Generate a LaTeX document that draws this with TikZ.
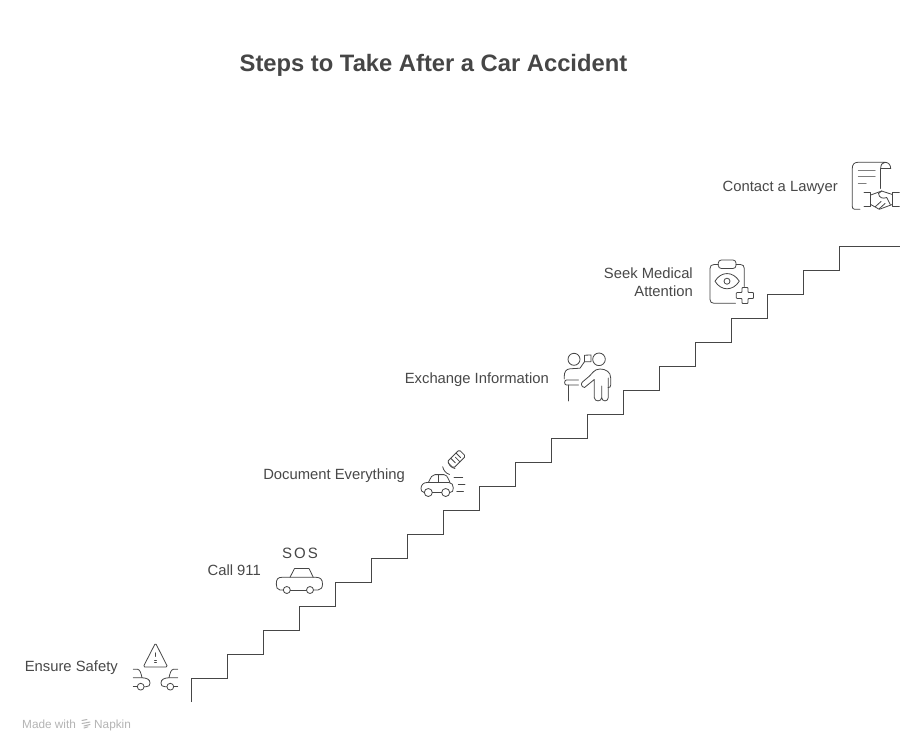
\documentclass[tikz,border=0pt]{standalone}
\usepackage{fontspec}
\setmainfont{Liberation Sans}
\definecolor{ink}{HTML}{464646}
\definecolor{lbl}{HTML}{484848}
\definecolor{mark}{HTML}{B4B4B4}
\tikzset{
  icon/.style={draw=ink,line width=0.8pt,line cap=round,line join=round,fill=none},
  stair/.style={draw=ink,line width=1pt,line join=miter},
  lab/.style={text=lbl,font=\fontsize{14.8}{18}\selectfont,inner sep=0pt},
  ttl/.style={text=ink,font=\fontsize{23.75}{30}\selectfont\bfseries,inner sep=0pt},
  wm/.style={text=mark,font=\fontsize{11.8}{14}\selectfont,inner sep=0pt}
}
\begin{document}
\begin{tikzpicture}[x=1pt,y=-1pt]
\useasboundingbox (0,0) rectangle (924,750);
\fill[white] (0,0) rectangle (924,750);
\node[ttl,anchor=base] (title) at (433.5,71) {Steps to Take After a Car Accident};
% labels
\node[lab,anchor=base east] (l1) at (118,671) {Ensure Safety};
\node[lab,anchor=base east] (l2) at (261,575) {Call 911};
\node[lab,anchor=base east] (l3) at (405,479) {Document Everything};
\node[lab,anchor=base east] (l4) at (549,383) {Exchange Information};
\node[lab,anchor=base east] (l5a) at (693,278) {Seek Medical};
\node[lab,anchor=base east] (l5b) at (693,296) {Attention};
\node[lab,anchor=base east] (l6) at (838,191) {Contact a Lawyer};
% staircase
\draw[stair] (191,702) |- (227,678) |- (263,654) |- (299,630) |- (335,606) |- (371,582) |- (407,558) |- (443,534) |- (479,510) |- (515,486) |- (551,462) |- (587,438) |- (623,414) |- (659,390) |- (695,366) |- (731,342) |- (767,318) |- (803,294) |- (839,270) |- (900,246);
% icon 1: warning and two cars
\draw[icon,rounded corners=1.5pt] (155.5,643) -- (167.7,667) -- (143.2,667) -- cycle;
\draw[icon,line width=0.6pt] (155.5,652.7) -- (155.5,656.5) (154.5,660.5) -- (156.5,660.5) (154.5,662) -- (156.5,662);
\draw[icon] (133.3,669.3) -- (137.5,669.3) .. controls (140,669.5) and (141,673) .. (142,677.7);
\draw[icon] (133.3,677.7) -- (142,677.7) .. controls (147,678) and (150,679.5) .. (150,683) .. controls (150,685.5) and (149,686.7) .. (146,686.7) -- (144.4,686.7);
\draw[icon] (133.3,686.7) -- (137,686.7);
\draw[icon] (140.7,686.7) circle (3.4);
\draw[icon] (177.7,669.3) -- (173.5,669.3) .. controls (171,669.5) and (170,673) .. (169,677.7);
\draw[icon] (177.7,677.7) -- (169,677.7) .. controls (164,678) and (161,679.5) .. (161,683) .. controls (161,685.5) and (162,686.7) .. (165,686.7) -- (166.6,686.7);
\draw[icon] (177.7,686.7) -- (174,686.7);
\draw[icon] (170.3,686.7) circle (3.4);
% icon 2: SOS and car
\node[text=ink,font=\fontsize{15}{18}\selectfont,inner sep=0pt,anchor=base] (sos) at (300,558.5) {S\hspace{2pt}O\hspace{2pt}S};
\draw[icon] (290,577.3) -- (294.5,568.5) -- (309,568.5) -- (313.3,577.3);
\draw[icon] (283.2,590) -- (280,590) .. controls (277,590) and (276.3,587) .. (276.3,584) .. controls (276.3,579) and (278,577.3) .. (282,577.3) -- (316,577.3) .. controls (320.5,577.3) and (322.5,579.5) .. (322.5,584) .. controls (322.5,587.5) and (321,590) .. (318,590) -- (313.6,590);
\draw[icon] (290.3,590) -- (306.5,590);
\draw[icon] (286.8,590) circle (3.5);
\draw[icon] (310,590) circle (3.5);
% icon 3: car with signal
\draw[icon] (428.3,482.5) -- (431.5,476.5) .. controls (432.5,475) and (433,474.6) .. (435,474.6) -- (444,474.6) .. controls (446,474.6) and (447,475.5) .. (450,482.5);
\draw[icon] (438.3,474.6) -- (438.3,482.5);
\draw[icon] (424.3,492.5) .. controls (421.5,492.5) and (421,490) .. (421,488.5) .. controls (421,485) and (423.5,482.5) .. (427,482.5) -- (449,482.5) .. controls (452,482.5) and (453.3,485) .. (453.3,488) .. controls (453.3,491) and (452.5,492.5) .. (449.7,492.5);
\draw[icon] (432.3,492.5) -- (441.7,492.5);
\draw[icon] (428.3,492.5) circle (4);
\draw[icon] (445.7,492.5) circle (4);
\draw[icon] (454,477.7) -- (462.7,477.7) (458.3,484.4) -- (465,484.4) (456.7,491.7) -- (463.5,491.7);
\draw[icon] (442.7,466.7) .. controls (443.2,470) and (446,473.5) .. (449.5,474.5);
\draw[icon] (448.3,461.7) .. controls (448.3,464) and (451,468) .. (455,468.5);
\begin{scope}[shift={(456.4,459)},rotate=45]
\draw[icon,rounded corners=1.5pt] (-8.5,-4.5) rectangle (8.5,4.5);
\draw[icon] (-3.5,-4.5) -- (-3.5,2) (0.5,-2) -- (0.5,4.5) (4,-4.5) -- (4,2);
\end{scope}
% icon 4: two people and flag
\draw[icon] (574,359.3) circle (6);
\draw[icon] (599,359.3) circle (6.3);
\draw[icon] (584.5,355.2) -- (591,355) -- (591,361.7) -- (584.5,361.7) -- cycle;
\draw[icon] (584.5,361.7) -- (580,368.2) -- (570,368.8) .. controls (566,369) and (564.3,372) .. (564.3,376) -- (564.3,379);
\draw[icon] (578.5,380) -- (566.5,380) .. controls (564,380) and (564,385) .. (566.5,385) -- (578.5,385);
\draw[icon] (568.3,385) -- (568.3,401);
\draw[icon] (584.5,387.5) .. controls (581,387) and (580.5,383) .. (583,381.5) -- (589,376.5) .. controls (592,374) and (594,369) .. (600,369) .. controls (606,369) and (610.7,372) .. (610.7,378) -- (610.7,385) .. controls (610.7,387) and (609.5,388) .. (608,387.5);
\draw[icon] (584.5,387.5) -- (594.3,379.5) -- (594.3,397.5) .. controls (594.3,402) and (601.7,402) .. (601.7,397.5) -- (601.7,386) (601.7,397.5) .. controls (601.7,402) and (608.3,402) .. (608.3,397.5) -- (608.3,378);
% icon 5: clipboard
\draw[icon] (718.3,264.5) -- (714,264.5) .. controls (711.5,264.5) and (710,266) .. (710,268.5) -- (710,299.5) .. controls (710,302) and (711.5,303.3) .. (714,303.3) -- (735.5,303.3);
\draw[icon] (736,264.5) -- (740.5,264.5) .. controls (743,264.5) and (744.3,266) .. (744.3,268.5) -- (744.3,286.5);
\draw[icon,rounded corners=3pt] (718.3,260) rectangle (736,268.5);
\draw[icon] (715,281.2) .. controls (721,271) and (733,271) .. (739.3,281.2) .. controls (733,291.3) and (721,291.3) .. (715,281.2) -- cycle;
\draw[icon] (727,281.2) circle (3);
\draw[icon,rounded corners=0.8pt] (742,287.5) -- (748,287.5) -- (748,292.5) -- (753.5,292.5) -- (753.5,298.5) -- (748,298.5) -- (748,303.5) -- (742,303.5) -- (742,298.5) -- (736.3,298.5) -- (736.3,292.5) -- (742,292.5) -- cycle;
% icon 6: document and handshake
\draw[icon] (860,209.2) -- (854.5,209.2) .. controls (853,209.2) and (852.3,208) .. (852.3,206.5) -- (852.3,168.5) .. controls (852.3,164.5) and (854,162.3) .. (858,162.3) -- (885,162.3) .. controls (888.5,162.3) and (890.7,165) .. (890.7,168.5) -- (880.7,168.5) .. controls (880.7,165) and (882,162.3) .. (885,162.3);
\draw[icon] (880.7,168.5) -- (880.7,188.5);
\draw[icon,line width=1pt,draw=ink!70] (858.3,170.7) -- (875,170.7) (858.3,176.7) -- (875,176.7) (858.3,183) -- (866,183);
\draw[icon] (864,192.7) -- (870.7,192.7) -- (870.7,206.7) -- (864,206.7);
\draw[icon] (899.3,192.7) -- (892.3,192.7) -- (892.3,206.7) -- (899.3,206.7);
\draw[icon] (870.7,195) -- (881.7,191) -- (892.3,194.5);
\draw[icon] (870.7,204.5) -- (879.3,209.3) -- (892.3,204.5);
\draw[icon] (881.7,191) -- (878.5,193.5) .. controls (879,198) and (883,199) .. (886.7,197.5) -- (890.3,204.5);
\draw[icon] (875.5,206.5) -- (881,201.5) (879.5,208.5) -- (885,203.5);
% watermark
\node[wm,anchor=base west] (wm1) at (22,728) {Made with};
\node[wm,anchor=base west] (wm2) at (94,728) {Napkin};
\draw[draw=mark,line width=1pt,line cap=round] (82,720.5) -- (87,719.5) (82,723.5) -- (90,722) (84,726) -- (90,724.5) (84,728) -- (88,726.8);
\end{tikzpicture}
\end{document}
